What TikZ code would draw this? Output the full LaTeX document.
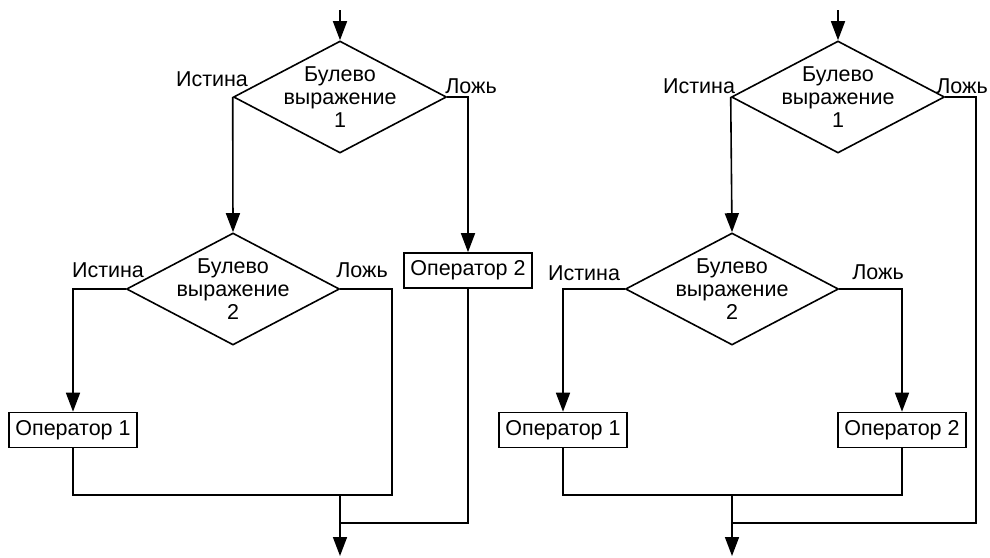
\documentclass[tikz,border=0pt]{standalone}
\usepackage{fontspec}
\setmainfont{Liberation Sans}
\usetikzlibrary{shapes.geometric,arrows.meta}
\begin{document}
\begin{tikzpicture}[x=1pt,y=-1pt,
  line width=1.6pt,
  every node/.style={font=\fontsize{21.5}{23}\selectfont},
  decision/.style={draw,diamond,minimum width=213pt,minimum height=112pt,inner sep=0pt},
  dtext/.style={align=center,inner sep=0pt},
  opbox/.style={draw,rectangle,minimum width=128pt,minimum height=35pt,inner sep=0pt},
  lbl/.style={inner sep=0pt},
  arr/.style={-{Triangle[length=19pt,width=14pt]}}]
\useasboundingbox (0,0) rectangle (990,557);

% ---- left scheme: nested branching ----
\coordinate (in1) at (340,10);
\node[decision] (d1) at (340,97) {};
\node[dtext] at (d1) {Булево\\выражение\\1};
\node[decision] (d2) at (233,289) {};
\node[dtext] at (d2) {Булево\\выражение\\2};
\node[opbox] (op1l) at (73,430) {Оператор 1};
\node[opbox] (op2l) at (468,270.5) {Оператор 2};
\coordinate (c1) at (392,495);
\coordinate (m1) at (340,495);
\coordinate (m2) at (340,523);
\coordinate (out1) at (340,556);

\node[lbl] at (212,79) {Истина};
\node[lbl] at (471,86) {Ложь};
\node[lbl] at (108,270) {Истина};
\node[lbl] at (362,270) {Ложь};

\draw[arr] (in1) -- (d1.north);
\draw[arr] (d1.west) -- (d2.north);
\draw[arr] (d1.east) -| (op2l.north);
\draw[arr] (d2.west) -| (op1l.north);
\draw (op1l.south) |- (c1) |- (d2.east);
\draw (op2l.south) |- (m2);
\draw[arr] (m1) -- (out1);

% ---- right scheme: branching on both outcomes ----
\coordinate (in2) at (838,10);
\node[decision] (D1) at (838,97) {};
\node[dtext] at (D1) {Булево\\выражение\\1};
\node[decision] (D2) at (732,289) {};
\node[dtext] at (D2) {Булево\\выражение\\2};
\node[opbox] (Op1) at (563,430) {Оператор 1};
\node[opbox] (Op2) at (902,430) {Оператор 2};
\coordinate (b2) at (732,495);
\coordinate (r1) at (976,523);
\coordinate (M2) at (732,523);
\coordinate (out2) at (732,556);

\node[lbl] at (699,86) {Истина};
\node[lbl] at (962,86) {Ложь};
\node[lbl] at (584,273) {Истина};
\node[lbl] at (878,272) {Ложь};

\draw[arr] (in2) -- (D1.north);
\draw[arr] (D1.west) -- (D2.north);
\draw[arr] (D2.west) -| (Op1.north);
\draw[arr] (D2.east) -| (Op2.north);
\draw (Op1.south) |- (b2) -| (Op2.south);
\draw (D1.east) -| (r1) -- (M2);
\draw[arr] (b2) -- (out2);
\end{tikzpicture}
\end{document}
